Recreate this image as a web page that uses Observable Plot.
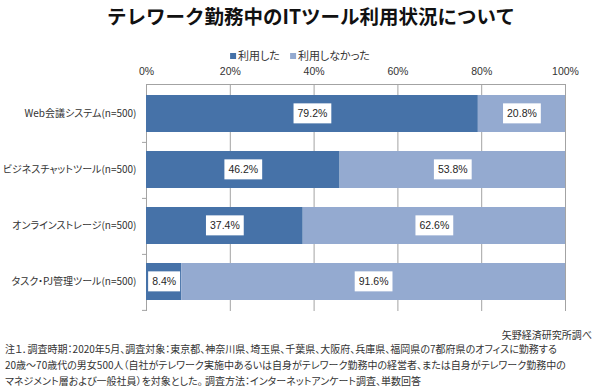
<!DOCTYPE html>
<html><head><meta charset="utf-8">
<script src="https://cdn.jsdelivr.net/npm/d3@7"></script>
<script src="https://cdn.jsdelivr.net/npm/@observablehq/plot@0.6"></script>
<style>
html,body{margin:0;padding:0;background:#fff;}
#wrap{position:relative;width:600px;height:389px;overflow:hidden;font-family:"Noto Sans CJK JP",sans-serif;color:#1a1a1a;}
#title{position:absolute;left:311px;top:4px;transform:translateX(-50%);white-space:nowrap;font-size:19.5px;font-weight:bold;line-height:24px;color:#111;}
#legend{position:absolute;left:300px;top:47px;transform:translateX(-50%);white-space:nowrap;font-size:11px;line-height:16px;color:#333;font-feature-settings:"palt";}
#legend span.sw{display:inline-block;width:6px;height:6px;margin-right:2px;vertical-align:1px;}
#legend span.item{margin:0 5px;}
#source{position:absolute;right:8px;top:327px;font-size:10px;line-height:16px;color:#333;font-feature-settings:"palt";}
#notes{position:absolute;left:5px;top:341px;font-size:10px;line-height:16px;color:#333;white-space:nowrap;font-feature-settings:"palt";}
#plot{position:absolute;left:0;top:0;}
</style>
</head><body>
<div id="wrap">
<div id="plot"></div>
<div id="title"></div>
<div id="legend"></div>
<div id="source"></div>
<div id="notes"></div>
</div>
<script>
const titleText = "テレワーク勤務中のITツール利用状況について";
const categories = ["Web会議システム(n=500)", "ビジネスチャットツール(n=500)", "オンラインストレージ(n=500)", "タスク・PJ管理ツール(n=500)"];
const seriesNames = ["利用した", "利用しなかった"];
const usedValues = [79.2, 46.2, 37.4, 8.4];
const notUsedValues = [20.8, 53.8, 62.6, 91.6];
const xTicks = [0, 20, 40, 60, 80, 100];
const colors = ["#4672a8", "#94aad0"];
const sourceText = "矢野経済研究所調べ";
const noteLines = [
  "注１．調査時期：2020年5月、調査対象：東京都、神奈川県、埼玉県、千葉県、大阪府、兵庫県、福岡県の7都府県のオフィスに勤務する",
  "20歳～70歳代の男女500人（自社がテレワーク実施中あるいは自身がテレワーク勤務中の経営者、または自身がテレワーク勤務中の",
  "マネジメント層および一般社員）を対象とした。 調査方法：インターネットアンケート調査、単数回答"
];

const data = [];
categories.forEach((c, i) => {
  data.push({cat: c, series: seriesNames[0], value: usedValues[i]});
  data.push({cat: c, series: seriesNames[1], value: notUsedValues[i]});
});

document.getElementById("title").textContent = titleText;
document.getElementById("legend").innerHTML = seriesNames.map((s, i) =>
  `<span class="item"><span class="sw" style="background:${colors[i]}"></span>${s}</span>`).join("");
document.getElementById("source").textContent = sourceText;
document.getElementById("notes").innerHTML = noteLines.map(l => `<div>${l}</div>`).join("");

const mTop = 84, mBottom = 78, H = 389;
const step = (H - mTop - mBottom) / categories.length;

const chart = Plot.plot({
  width: 600,
  height: H,
  marginTop: mTop,
  marginBottom: mBottom,
  marginLeft: 146,
  marginRight: 35,
  style: {fontFamily: "'Noto Sans CJK JP', sans-serif", background: "transparent"},
  x: {domain: [0, 100], axis: null},
  y: {domain: categories, paddingInner: 0.34, paddingOuter: 0.17, axis: null},
  color: {domain: seriesNames, range: colors},
  marks: [
    Plot.gridX(xTicks, {stroke: "#a3a3a3", strokeOpacity: 1, strokeWidth: 1}),
    Plot.frame({anchor: "top", stroke: "#a3a3a3"}),
    Plot.barX(data, Plot.stackX({x: "value", y: "cat", fill: "series", z: "series", order: seriesNames})),
    Plot.text(data, Plot.stackX({x: "value", y: "cat", z: "series", order: seriesNames,
      text: d => d.value.toFixed(1) + "%", fill: "#262626",
      fontFamily: "'Liberation Sans', Arial, sans-serif", fontSize: 10.5, className: "vlabel"})),
    Plot.axisX(xTicks, {anchor: "top", tickSize: 0, tickPadding: 10, tickFormat: d => d + "%",
      fontFamily: "'Liberation Sans', Arial, sans-serif", fontSize: 10.5, fill: "#333", label: null}),
    Plot.axisY({tickSize: 0, tickPadding: 10, label: null, fontSize: 10, fill: "#333", className: "ylab"}),
    Plot.axisY({tickSize: 4, text: null, label: null, dy: step / 2, stroke: "#a3a3a3"})
  ]
});
document.getElementById("plot").appendChild(chart);

// palt for category labels
chart.querySelectorAll(".ylab text").forEach(t => t.style.fontFeatureSettings = '"palt"');

// white boxes behind value labels
chart.querySelectorAll(".vlabel text").forEach(t => {
  const b = t.getBBox();
  const r = document.createElementNS("http://www.w3.org/2000/svg", "rect");
  const padX = 4, h = 20;
  r.setAttribute("x", b.x - padX);
  r.setAttribute("y", b.y + b.height / 2 - h / 2);
  r.setAttribute("width", b.width + 2 * padX);
  r.setAttribute("height", h);
  r.setAttribute("fill", "#fff");
  const tr = t.getAttribute("transform");
  if (tr) r.setAttribute("transform", tr);
  t.parentNode.insertBefore(r, t);
});
</script>
</body></html>
